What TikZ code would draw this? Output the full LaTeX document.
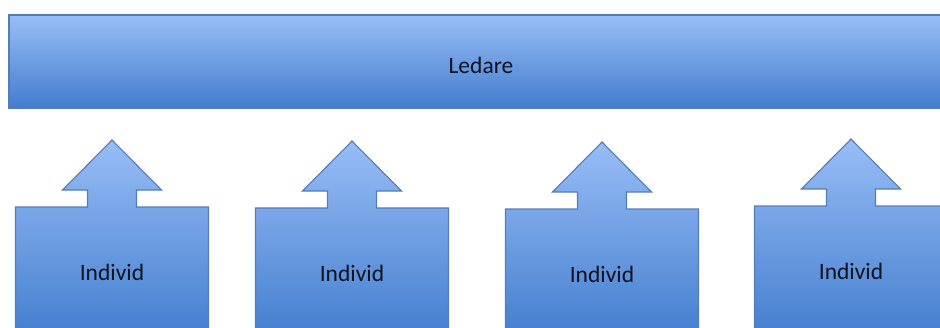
\documentclass[tikz,border=0pt]{standalone}
\usepackage{fontspec}
\setmainfont{Carlito}
\usetikzlibrary{positioning}
\definecolor{barTop}{RGB}{152,189,246}
\definecolor{barBottom}{RGB}{66,125,206}
\definecolor{barEdge}{RGB}{84,124,186}
\definecolor{labelInk}{RGB}{14,18,30}

\begin{document}
\begin{tikzpicture}[
    x=1pt, y=-1pt,
    panel/.style={draw=barEdge, line width=1.1pt, top color=barTop, bottom color=barBottom},
    caption/.style={font=\fontsize{23.5}{28}\selectfont, text=labelInk, inner sep=0pt}
]
\useasboundingbox (0,0) rectangle (940,327);
\clip (0,0) rectangle (940,327);

% leader bar
\path[panel] (9,15) rectangle (960,108);
\node[caption] (ledare) at (481,65) {Ledare};

% individuals pushing up
\foreach \cx/\ty/\n in {112/207/1, 352/208/2, 602/209/3, 851/206/4} {
    \path[panel] (\cx-96.5,340) -- (\cx-96.5,\ty) -- (\cx-24.5,\ty) -- (\cx-24.5,\ty-17)
        -- (\cx-49.5,\ty-17) -- (\cx,\ty-67) -- (\cx+49.5,\ty-17) -- (\cx+24.5,\ty-17)
        -- (\cx+24.5,\ty) -- (\cx+96.5,\ty) -- (\cx+96.5,340) -- cycle;
    \node[caption] (individ\n) at (\cx,\ty+65) {Individ};
}
\end{tikzpicture}
\end{document}
